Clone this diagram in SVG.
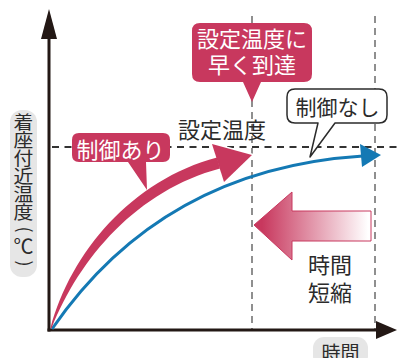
<svg xmlns="http://www.w3.org/2000/svg" width="397" height="358" viewBox="0 0 397 358">
<defs>
<style>
.jp{font-family:"Noto Sans CJK JP","Noto Sans CJK SC",sans-serif;}
.w{fill:#ffffff;}
.d{fill:#2b2b2b;}
.pink{fill:#c8385e;}
.axis{stroke:#231815;stroke-width:3;fill:none;}
.vdash{stroke:#8f8f8f;stroke-width:2;stroke-dasharray:7 5;fill:none;}
.hdash{stroke:#333333;stroke-width:1.8;stroke-dasharray:7 5.5;fill:none;}
</style>
<linearGradient id="fade" gradientUnits="userSpaceOnUse" x1="262" y1="0" x2="368" y2="0">
<stop offset="0" stop-color="#c8385e"/>
<stop offset="1" stop-color="#ffffff"/>
</linearGradient>
</defs>
<rect width="397" height="358" fill="#ffffff"/>

<g id="guides">
<line class="vdash" x1="252" y1="16" x2="252" y2="329"/>
<line class="vdash" x1="375" y1="16" x2="375" y2="329"/>
<line class="hdash" x1="52" y1="147" x2="397" y2="147"/>
</g>

<g id="axes">
<line class="axis" x1="49" y1="331.5" x2="49" y2="36"/>
<polygon points="49,9 41,39 57,39" fill="#231815"/>
<line class="axis" x1="47.5" y1="330" x2="378" y2="330"/>
<polygon points="397,330 376,321 376,339" fill="#231815"/>
</g>

<g id="connectors">
<path id="curve-uncontrolled" d="M52,329 C120,230 220,165 363,156" fill="none" stroke="#1479b4" stroke-width="3"/>
<polygon points="360,144 381,155 362,167" fill="#1479b4"/>
<polygon id="arrowhead-controlled" points="212,144 252,155 224,182" class="pink" stroke="#ffffff" stroke-width="3" paint-order="stroke"/>
<path id="curve-controlled" class="pink" d="M50.5,328 C70.7,252.5 132,179.9 217,157.5 L220,168.5 C138,190.1 79.3,257.5 51.5,328.5 Z"/>
</g>

<g id="y-label">
<rect x="10" y="110" width="27" height="167" rx="12" fill="#e6e6e6"/>
<text class="jp d" x="23.5" y="113" font-size="18" writing-mode="tb" transform="translate(23.5,0) scale(1.1,1) translate(-23.5,0)">着座付近温度</text>
<text class="jp d" font-size="18" text-anchor="middle" dy="0.3em" transform="translate(23.5,229.5) rotate(90)">(</text>
<text class="jp d" x="23.5" y="254" font-size="20" text-anchor="middle">℃</text>
<text class="jp d" font-size="18" text-anchor="middle" dy="0.3em" transform="translate(23.5,263.5) rotate(90)">)</text>
</g>

<g id="x-label">
<rect x="313" y="337" width="55" height="30" rx="11" fill="#e6e6e6"/>
<text class="jp d" x="340.5" y="360" font-size="19" text-anchor="middle">時間</text>
</g>

<g id="callout-reach">
<path class="pink" d="M200,23 H304 Q312,23 312,31 V74 Q312,82 304,82 H261 L252,102 L243,82 H200 Q192,82 192,74 V31 Q192,23 200,23 Z"/>
<text class="jp w" x="252" y="47" font-size="22" text-anchor="middle">設定温度に</text>
<text class="jp w" x="252" y="73" font-size="22" text-anchor="middle">早く到達</text>
</g>

<g id="callout-controlled">
<path class="pink" d="M79,133 H163 Q170,133 170,140 V155 Q170,162 163,162 H146 L147,190 L128,162 H79 Q72,162 72,155 V140 Q72,133 79,133 Z"/>
<text class="jp w" x="120.5" y="158" font-size="22" text-anchor="middle">制御あり</text>
</g>

<g id="setpoint-label">
<text class="jp d" x="222" y="138" font-size="22" text-anchor="middle">設定温度</text>
</g>

<g id="callout-uncontrolled">
<path d="M295,89 H379 Q387,89 387,97 V115 Q387,123 379,123 H335 L310,157 L318,123 H295 Q287,123 287,115 V97 Q287,89 295,89 Z" fill="#ffffff" stroke="#2b2b2b" stroke-width="1.5" stroke-linejoin="round"/>
<text class="jp d" x="337.5" y="115" font-size="21" text-anchor="middle">制御なし</text>
</g>

<g id="shortening">
<path d="M254,225 L292,192 V211 H371 V241 H292 V260 Z" fill="url(#fade)" stroke="#c8385e" stroke-width="1"/>
<text class="jp d" x="330" y="273" font-size="22" text-anchor="middle">時間</text>
<text class="jp d" x="330" y="301" font-size="22" text-anchor="middle">短縮</text>
</g>
</svg>
